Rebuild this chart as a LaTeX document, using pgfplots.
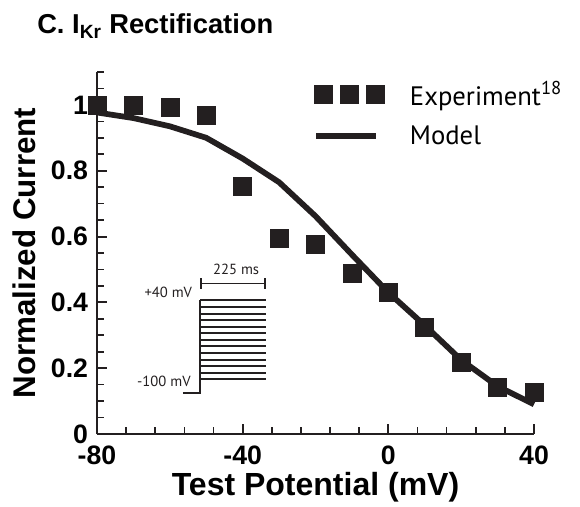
\documentclass[border=0pt]{standalone}
\usepackage{fontspec}
\setmainfont{Liberation Sans}
\newfontfamily\legfont{PT Sans}
\usepackage{pgfplots}
\pgfplotsset{compat=1.18}
\definecolor{ink}{RGB}{35,31,32}

\pgfplotsset{
  threesq/.style={legend image code/.code={%
    \draw[##1] plot coordinates {(0pt,0pt) (19.5pt,0pt) (39pt,0pt)};
    \path (60pt,0pt);}},
  longline/.style={legend image code/.code={%
    \draw[##1] (-5pt,0pt) -- (40pt,0pt);
    \path (60pt,0pt);}},
}

% experiment (squares)
\pgfplotstableread{
v    i
-80  1.000
-70  1.000
-60  0.994
-50  0.967
-40  0.752
-30  0.595
-20  0.577
-10  0.487
0    0.430
10   0.324
20   0.218
30   0.142
40   0.126
}\expdata

% model (line)
\pgfplotstableread{
v    i
-80  0.977
-70  0.960
-60  0.935
-50  0.900
-40  0.837
-30  0.765
-20  0.662
-10  0.545
0    0.430
10   0.330
20   0.225
30   0.145
40   0.090
}\modeldata

\begin{document}
\begin{tikzpicture}
\begin{axis}[
  scale only axis, width=327.75pt, height=271.5pt,
  xmin=-80, xmax=40, ymin=0, ymax=1.1,
  clip=false,
  axis lines=left,
  axis line style={-, line width=1.5pt, ink},
  xtick={-80,-40,0,40},
  minor xtick={-72,-64,-56,-48,-32,-24,-16,-8,8,16,24,32},
  ytick={0,0.2,0.4,0.6,0.8,1},
  minor ytick={0.05,0.1,0.15,0.25,0.3,0.35,0.45,0.5,0.55,0.65,0.7,0.75,0.85,0.9,0.95,1.05,1.1},
  tick align=inside,
  major tick style={ink, line width=1.5pt},
  minor tick style={ink, line width=1.2pt},
  major tick length=7.5pt, minor tick length=5pt,
  /pgf/number format/assume math mode=true,
  tick label style={font=\bfseries\fontsize{20}{20}\selectfont, text=black, inner sep=1pt},
  xticklabel style={yshift=-7.5pt},
  yticklabel style={xshift=-5.5pt},
  xlabel={Test Potential (mV)},
  ylabel={Normalized Current},
  xlabel style={font=\bfseries\fontsize{24}{24}\selectfont,
    at={(axis description cs:0.5,0)}, anchor=base, yshift=-46pt},
  ylabel style={font=\bfseries\fontsize{23.5}{24}\selectfont,
    at={(axis description cs:-0.167,0.5)}, anchor=center},
  legend style={at={(rel axis cs:0.495,0.985)}, anchor=north west, draw=none, fill=none,
    font=\legfont\fontsize{20}{21}\selectfont, row sep=8pt,
    inner sep=0pt, nodes={inner sep=3pt}},
  legend cell align=left,
]
\addplot[only marks, mark=square*, mark size=6.75pt, ink, mark options={fill=ink, draw=ink}, threesq]
  table[x=v, y=i] {\expdata};
\addlegendentry{Experiment\textsuperscript{18}}
\addplot[ink, line width=4.3pt, line join=round, longline]
  table[x=v, y=i] {\modeldata};
\addlegendentry{Model}

% voltage protocol inset
\draw[ink, line width=1.5pt] (axis cs:-56.4,0.125) -- (axis cs:-51.7,0.125) -- (axis cs:-51.7,0.406);
\pgfplotsinvokeforeach{0,...,12}{
  \draw[ink, line width=1.5pt] (axis cs:-51.7,{0.166+0.02*#1}) -- (axis cs:-33.6,{0.166+0.02*#1});
}
\draw[ink, line width=1.2pt, |-|] (axis cs:-51.7,0.457) -- (axis cs:-33.6,0.457);
\node[font=\legfont\fontsize{11}{12}\selectfont, text=ink] at (axis cs:-41.8,0.50) {225 ms};
\node[font=\legfont\fontsize{11}{12}\selectfont, text=ink, anchor=east] at (axis cs:-52.6,0.431) {+40 mV};
\node[font=\legfont\fontsize{11}{12}\selectfont, text=ink, anchor=east] at (axis cs:-53.0,0.161) {-100 mV};

% title
\node[anchor=base west, font=\bfseries\fontsize{20.5}{21}\selectfont, inner sep=0pt]
  at ([xshift=-45pt, yshift=28.5pt]rel axis cs:0,1) {C. I\textsubscript{Kr} Rectification};

\coordinate (O) at (rel axis cs:0,0);
\end{axis}
\pgfresetboundingbox
\useasboundingbox (O) ++(-72.75pt,-54pt) rectangle ++(435pt,379.5pt);
\end{tikzpicture}
\end{document}
